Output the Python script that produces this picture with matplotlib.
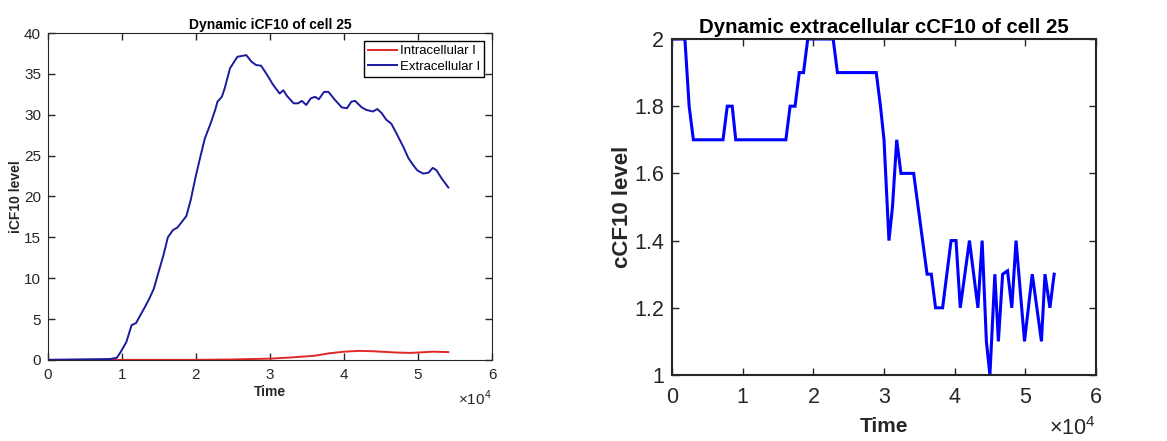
import numpy as np
import matplotlib
matplotlib.use("Agg")
import matplotlib.pyplot as plt
from matplotlib.ticker import FuncFormatter

plt.rcParams['font.family'] = ['Liberation Sans', 'DejaVu Sans']
plt.rcParams['mathtext.fontset'] = 'custom'
plt.rcParams['mathtext.rm'] = 'Liberation Sans'

# datos panel izquierdo (iCF10 intra / extracelular)
t_extra = [0, 8400, 9300, 9850, 10600, 11300, 11900, 12500, 13000, 13700, 14300,
           14900, 15600, 16200, 16900, 17500, 18100, 18700, 19300, 19900, 20600,
           21200, 22000, 22600, 22900, 23500, 23900, 24600, 25600, 26800, 27500,
           28100, 28800, 29600, 30400, 31300, 31800, 32300, 33200, 33800, 34300,
           34900, 35500, 36100, 36600, 37300, 37900, 38800, 39700, 40400, 41000,
           41500, 42400, 43000, 43900, 44500, 45100, 45700, 46400, 47100, 48000,
           48700, 49300, 49900, 50700, 51400, 52000, 52500, 53200, 54100]
i_extra = [0, 0.1, 0.25, 1.0, 2.2, 4.25, 4.5, 5.5, 6.3, 7.5, 8.7,
           10.6, 12.8, 15.0, 15.9, 16.2, 16.9, 17.6, 19.6, 22.2, 24.9,
           27.1, 29.0, 30.6, 31.6, 32.2, 33.3, 35.7, 37.1, 37.3, 36.5,
           36.1, 36.0, 34.9, 33.7, 32.6, 33.0, 32.3, 31.4, 31.4, 31.7,
           31.2, 32.0, 32.2, 31.9, 32.8, 32.8, 31.8, 30.9, 30.8, 31.6,
           31.7, 30.9, 30.6, 30.4, 30.7, 30.2, 29.4, 28.9, 27.7, 26.1,
           24.7, 23.9, 23.2, 22.8, 22.9, 23.5, 23.2, 22.2, 21.1]

t_intra = [0, 20000, 25000, 30000, 33000, 36000, 38000, 40000, 42000, 44000,
           47000, 49000, 52000, 54100]
i_intra = [0, 0, 0.05, 0.15, 0.3, 0.5, 0.8, 1.0, 1.1, 1.05,
           0.9, 0.85, 1.0, 0.95]

# datos panel derecho (cCF10 extracelular)
t_c = [0, 1800, 2400, 3000, 7200, 7800, 8500, 9000, 16100, 16700, 17400, 18000,
       18600, 19200, 22800, 23400, 28900, 29500, 30000, 30700, 31200, 31800,
       32400, 34200, 36100, 36700, 37300, 38300, 39500, 40200, 40800, 42100,
       43300, 43900, 44500, 45000, 45700, 46200, 46800, 47500, 48100, 48700,
       49900, 51000, 52300, 52800, 53500, 54100]
c_c = [2.0, 2.0, 1.8, 1.7, 1.7, 1.8, 1.8, 1.7, 1.7, 1.8, 1.8, 1.9,
       1.9, 2.0, 2.0, 1.9, 1.9, 1.8, 1.7, 1.4, 1.5, 1.7,
       1.6, 1.6, 1.3, 1.3, 1.2, 1.2, 1.4, 1.4, 1.2, 1.4,
       1.2, 1.4, 1.1, 1.0, 1.3, 1.1, 1.3, 1.31, 1.2, 1.4,
       1.1, 1.3, 1.1, 1.3, 1.2, 1.3]

gris = '#262626'

def estilo_matlab(ax, fs, pad, y_exp):
    # ticks hacia adentro en los cuatro lados, como en MATLAB
    ax.tick_params(direction='in', top=True, right=True, labelsize=fs,
                   colors=gris, length=5, width=1, pad=pad)
    for s in ax.spines.values():
        s.set_color(gris)
    # eje x en unidades de 10^4, con el multiplicador abajo a la derecha
    ax.xaxis.set_major_formatter(FuncFormatter(lambda v, p: f'{v / 1e4:g}'))
    ax.text(1.0, y_exp, r'$\times10^{4}$', transform=ax.transAxes, ha='right',
            va='center', fontsize=fs, color=gris)

fig = plt.figure(figsize=(11.67, 4.41), dpi=100)

ax1 = fig.add_axes([0.0411, 0.184, 0.3805, 0.741])
ax1.plot(t_intra, i_intra, color='#e02828', linewidth=1.4, label='Intracellular I')
ax1.plot(t_extra, i_extra, color='#1a1a9e', linewidth=1.4, label='Extracellular I')
ax1.set_xlim(0, 60000)
ax1.set_ylim(0, 40)
ax1.set_xticks(np.arange(0, 60001, 10000))
ax1.set_yticks(np.arange(0, 41, 5))
estilo_matlab(ax1, 11, 6, -0.118)
ax1.tick_params(axis='y', pad=5)
ax1.set_title('Dynamic iCF10 of cell 25', fontsize=10, fontweight='bold', pad=3)
ax1.set_xlabel('Time', fontsize=10, fontweight='bold', color=gris, labelpad=2)
ax1.set_ylabel('iCF10 level', fontsize=10, fontweight='bold', color=gris, labelpad=1)
leg = ax1.legend(loc='upper right', fontsize=9.5, fancybox=False, framealpha=1,
                 edgecolor='black', handlelength=2.2, handletextpad=0.2,
                 borderpad=0.3, labelspacing=0.25, borderaxespad=0.6)
leg.get_frame().set_linewidth(1.0)

ax2 = fig.add_axes([0.576, 0.1497, 0.363, 0.7619])
ax2.plot(t_c, c_c, color='#0000ff', linewidth=2.2, solid_joinstyle='miter')
ax2.set_xlim(0, 60000)
ax2.set_ylim(1, 2)
ax2.set_xticks(np.arange(0, 60001, 10000))
ax2.set_yticks([1, 1.2, 1.4, 1.6, 1.8, 2])
ax2.set_yticklabels(['1', '1.2', '1.4', '1.6', '1.8', '2'])
estilo_matlab(ax2, 15.5, 9, -0.158)
ax2.tick_params(axis='y', pad=6)
for s in ax2.spines.values():
    s.set_linewidth(1.5)
ax2.set_title('Dynamic extracellular cCF10 of cell 25', fontsize=14.7,
              fontweight='bold', pad=4)
ax2.set_xlabel('Time', fontsize=15, fontweight='bold', color=gris, labelpad=6)
ax2.set_ylabel('cCF10 level', fontsize=16, fontweight='bold', color=gris, labelpad=1)

fig.savefig('out.png', dpi=100)
